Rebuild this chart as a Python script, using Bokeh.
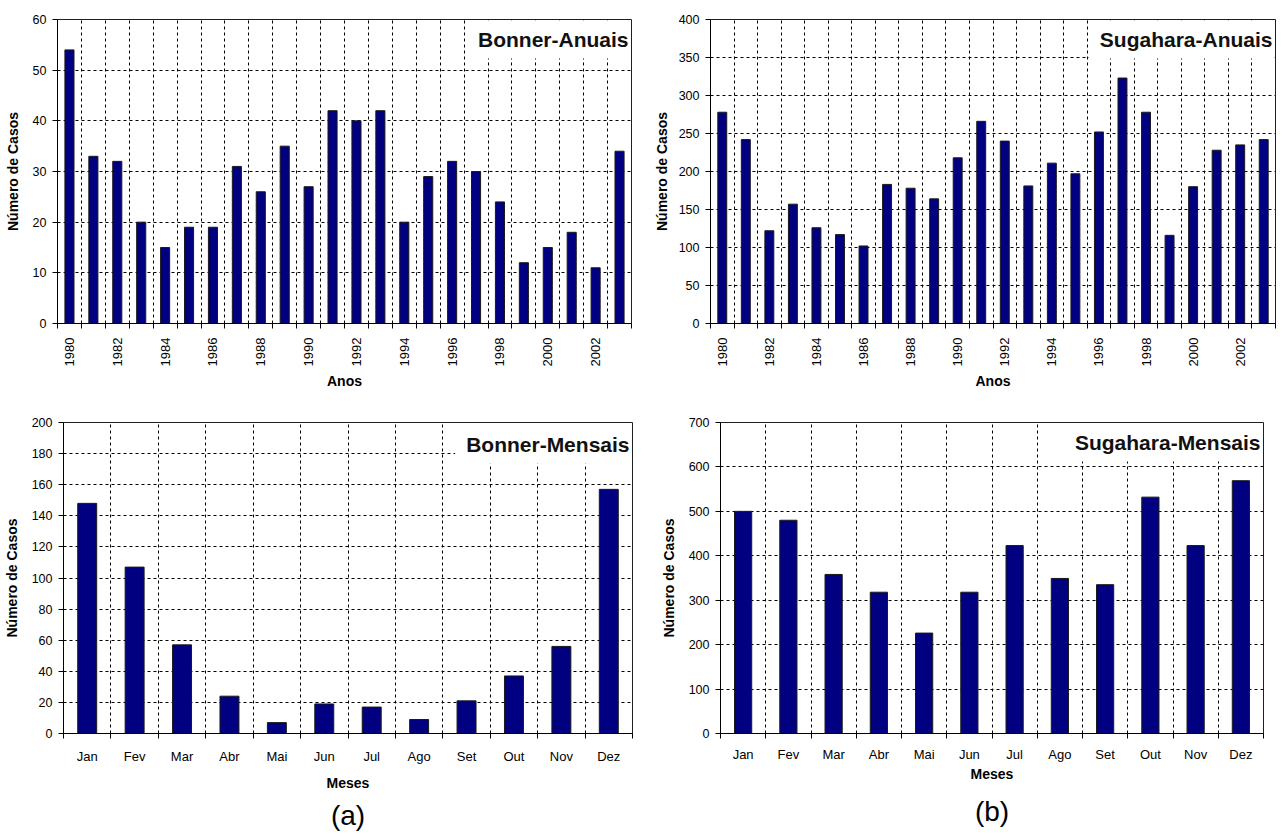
from math import pi
from bokeh.plotting import figure
from bokeh.layouts import column, row
from bokeh.models import Range1d, FixedTicker, Label, Title
from bokeh.embed import file_html
from bokeh.resources import INLINE

# ---------------- data ----------------
years = [1980, 1981, 1982, 1983, 1984, 1985, 1986, 1987, 1988, 1989, 1990, 1991,
         1992, 1993, 1994, 1995, 1996, 1997, 1998, 1999, 2000, 2001, 2002, 2003]
year_labels_shown = [1980, 1982, 1984, 1986, 1988, 1990, 1992, 1994, 1996, 1998, 2000, 2002]
bonner_anuais = [54, 33, 32, 20, 15, 19, 19, 31, 26, 35, 27, 42,
                 40, 42, 20, 29, 32, 30, 24, 12, 15, 18, 11, 34]
sugahara_anuais = [278, 242, 122, 157, 126, 117, 102, 183, 178, 164, 218, 266,
                   240, 181, 211, 197, 252, 323, 278, 116, 180, 228, 235, 242]
meses = ["Jan", "Fev", "Mar", "Abr", "Mai", "Jun", "Jul", "Ago", "Set", "Out", "Nov", "Dez"]
bonner_mensais = [148, 107, 57, 24, 7, 19, 17, 9, 21, 37, 56, 157]
sugahara_mensais = [500, 480, 358, 318, 226, 318, 423, 349, 335, 532, 423, 569]

yticks_bonner_anuais = [0, 10, 20, 30, 40, 50, 60]
yticks_sugahara_anuais = [0, 50, 100, 150, 200, 250, 300, 350, 400]
yticks_bonner_mensais = [0, 20, 40, 60, 80, 100, 120, 140, 160, 180, 200]
yticks_sugahara_mensais = [0, 100, 200, 300, 400, 500, 600, 700]

FONT = "Liberation Sans"
BAR = "#000080"


def make_panel(cats, shown, vals, yticks, name, xlabel, width, height,
               bl, br, bt, bb, bar_w, rotate, lab_standoff, axlab_standoff,
               ylab_standoff, pad_top, sub=None, sub_standoff=4):
    n = len(cats)
    p = figure(width=width, height=height,
               x_range=Range1d(-0.5, n - 0.5),
               y_range=Range1d(yticks[0], yticks[-1]),
               output_backend="svg", toolbar_location=None,
               min_border_left=bl, min_border_right=br,
               min_border_top=bt, min_border_bottom=bb)
    p.background_fill_color = "white"
    p.border_fill_color = "white"
    p.outline_line_color = "#202020"
    p.outline_line_width = 1

    xs = list(range(n))
    p.vbar(x=xs, top=vals, width=bar_w, bottom=0,
           fill_color=BAR, line_color="#1a1a1a", line_width=1)

    tick_idx = [i for i, c in enumerate(cats) if c in shown]
    xt = FixedTicker(ticks=tick_idx, minor_ticks=[i - 0.5 for i in range(n + 1)])
    p.xaxis.ticker = xt
    p.xgrid.ticker = xt
    p.xaxis.major_label_overrides = {i: str(cats[i]) for i in tick_idx}
    p.xaxis.major_tick_in = 0
    p.xaxis.major_tick_out = 0
    p.xaxis.minor_tick_in = 0
    p.xaxis.minor_tick_out = 5
    p.xaxis.minor_tick_line_color = "black"
    p.xaxis.axis_line_color = "black"
    p.xaxis.major_label_standoff = lab_standoff
    if rotate:
        p.xaxis.major_label_orientation = pi / 2
    p.xaxis.major_label_text_font = FONT
    p.xaxis.major_label_text_font_size = "13px"
    p.xaxis.major_label_text_color = "black"
    p.xaxis.axis_label = xlabel
    p.xaxis.axis_label_text_font = FONT
    p.xaxis.axis_label_text_font_style = "bold"
    p.xaxis.axis_label_text_font_size = "14px"
    p.xaxis.axis_label_text_color = "black"
    p.xaxis.axis_label_standoff = axlab_standoff

    yt = FixedTicker(ticks=yticks)
    p.yaxis.ticker = yt
    p.ygrid.ticker = yt
    p.yaxis.major_tick_in = 0
    p.yaxis.major_tick_out = 5
    p.yaxis.minor_tick_line_color = None
    p.yaxis.axis_line_color = "black"
    p.yaxis.major_tick_line_color = "black"
    p.yaxis.major_label_standoff = 6
    p.yaxis.major_label_text_font = FONT
    p.yaxis.major_label_text_font_size = "12.5px"
    p.yaxis.major_label_text_color = "black"
    p.yaxis.axis_label = "Número de Casos"
    p.yaxis.axis_label_text_font = FONT
    p.yaxis.axis_label_text_font_style = "bold"
    p.yaxis.axis_label_text_font_size = "14px"
    p.yaxis.axis_label_text_color = "black"
    p.yaxis.axis_label_standoff = ylab_standoff

    p.xgrid.grid_line_color = None
    p.xgrid.minor_grid_line_color = "black"
    p.xgrid.minor_grid_line_dash = "3 3"
    p.xgrid.minor_grid_line_width = 1
    p.ygrid.grid_line_color = "black"
    p.ygrid.grid_line_dash = "3 3"
    p.ygrid.grid_line_width = 1

    lab = Label(x=n - 0.5, y=yticks[-1], x_offset=-1, y_offset=-1,
                text=name, text_align="right", text_baseline="top",
                text_font=FONT, text_font_size="21px", text_font_style="bold",
                text_color="#111111",
                background_fill_color="white",
                padding=dict(left=11, right=2, top=pad_top, bottom=8))
    p.add_layout(lab)

    if sub is not None:
        p.add_layout(Title(text=sub, align="center", text_font=FONT,
                           text_font_size="28px", text_font_style="normal",
                           text_color="black", standoff=sub_standoff), "below")
    return p


p1 = make_panel(years, year_labels_shown, bonner_anuais, yticks_bonner_anuais,
                "Bonner-Anuais", "Anos", 650, 392, 57, 19, 19, 69, 0.38, True, 9, 4, 9, 7)
p2 = make_panel(years, year_labels_shown, sugahara_anuais, yticks_sugahara_anuais,
                "Sugahara-Anuais", "Anos", 632, 392, 58, 7, 19, 69, 0.38, True, 9, 4, 6, 7)
p3 = make_panel(meses, meses, bonner_mensais, yticks_bonner_mensais,
                "Bonner-Mensais", "Meses", 657, 444, 63, 25, 26, 103, 0.4, False, 10, 8, 9, 9,
                sub="(a)", sub_standoff=8)
p4 = make_panel(meses, meses, sugahara_mensais, yticks_sugahara_mensais,
                "Sugahara-Mensais", "Meses", 625, 444, 56, 19, 30, 103, 0.38, False, 8, 1, 9, 7,
                sub="(b)", sub_standoff=19)

layout = column(row(p1, p2), row(p3, p4))
open("out.html", "w").write(file_html(layout, INLINE))
